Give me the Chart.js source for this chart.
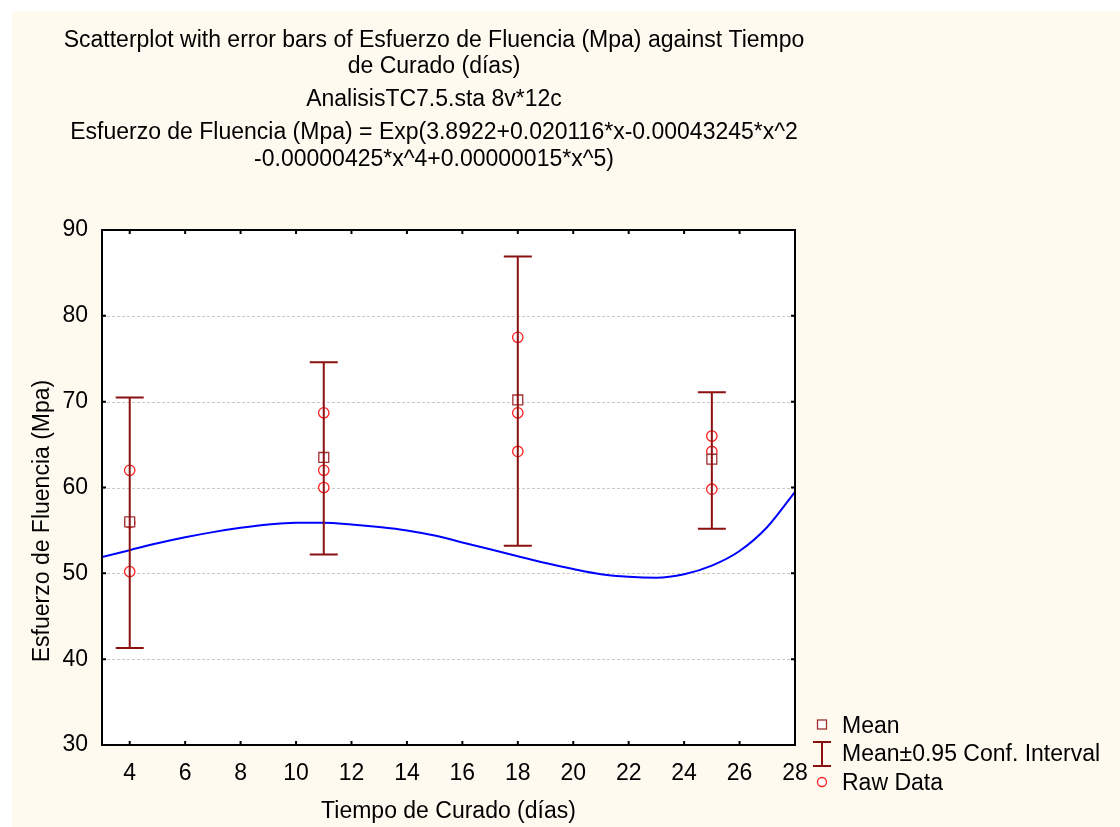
<!DOCTYPE html>
<html>
<head>
<meta charset="utf-8">
<script src="https://cdn.jsdelivr.net/npm/chart.js@4.4.1/dist/chart.umd.min.js"></script>
<style>
  html, body { margin: 0; padding: 0; background: #ffffff; }
  #wrap { position: absolute; left: 0; top: 0; width: 1120px; height: 827px; }
</style>
</head>
<body>
<div id="wrap"><canvas id="c" width="1120" height="827"></canvas></div>
<script>
// ---- data ----
const titleLines = [
  "Scatterplot with error bars of Esfuerzo de Fluencia (Mpa) against Tiempo",
  "de Curado (días)",
  "AnalisisTC7.5.sta 8v*12c",
  "Esfuerzo de Fluencia (Mpa) = Exp(3.8922+0.020116*x-0.00043245*x^2",
  "-0.00000425*x^4+0.00000015*x^5)"
];
const xTitle = "Tiempo de Curado (días)";
const yTitle = "Esfuerzo de Fluencia (Mpa)";
const xTicks = [4, 6, 8, 10, 12, 14, 16, 18, 20, 22, 24, 26, 28];
const yTicks = [30, 40, 50, 60, 70, 80, 90];

const days   = [4, 11, 18, 25];
const means  = [56.0, 63.5, 70.2, 63.3];
const ciLow  = [41.3, 52.2, 53.2, 55.2];
const ciHigh = [70.5, 74.6, 86.9, 71.1];

const rawX = [4, 4, 4, 11, 11, 11, 18, 18, 18, 25, 25, 25];
const rawY = [62.0, 55.9, 50.2, 68.7, 62.0, 60.0, 77.5, 68.7, 64.2, 66.0, 64.2, 59.8];

const curveX = [3, 4, 5, 6, 7, 8, 9, 10, 11, 12, 13, 14, 15, 16, 17, 18, 19, 20, 21, 22, 23, 24, 25, 26, 27, 28];
const curveY = [51.9, 52.7, 53.5, 54.2, 54.8, 55.3, 55.7, 55.9, 55.9, 55.7, 55.4, 55.0, 54.4, 53.6, 52.8, 52.0, 51.2, 50.5, 49.9, 49.6, 49.5, 49.9, 50.9, 52.6, 55.4, 59.5];

const legendLabels = ["Mean", "Mean±0.95 Conf. Interval", "Raw Data"];

// ---- styles ----
const FONT = "'Liberation Sans', Arial, sans-serif";
const FS = 23;
const CREAM = "#fffaf0";
const DARKRED = "#8b1010";
const MEANRED = "#a03030";
const RAWRED = "#ff2020";
const BLUE = "#0000ff";

const decorPlugin = {
  id: 'decor',
  beforeDraw(chart) {
    const ctx = chart.ctx, a = chart.chartArea;
    ctx.save();
    ctx.fillStyle = '#ffffff';
    ctx.fillRect(0, 0, chart.width, chart.height);
    ctx.fillStyle = CREAM;
    ctx.fillRect(12, 11, chart.width - 12, chart.height - 11);
    ctx.fillStyle = '#ffffff';
    ctx.fillRect(a.left, a.top, a.right - a.left, a.bottom - a.top);
    // dashed horizontal grid
    const ys = chart.scales.y;
    ctx.strokeStyle = '#c8c8c8';
    ctx.lineWidth = 1;
    ctx.setLineDash([3, 2]);
    yTicks.forEach(v => {
      const py = Math.round(ys.getPixelForValue(v)) + 0.5;
      ctx.beginPath();
      ctx.moveTo(a.left, py);
      ctx.lineTo(a.right, py);
      ctx.stroke();
    });
    ctx.setLineDash([]);
    // titles
    ctx.fillStyle = '#000';
    ctx.font = FS + "px " + FONT;
    ctx.textAlign = 'center';
    ctx.textBaseline = 'middle';
    const ty = [41, 67, 100, 133, 160];
    titleLines.forEach((t, i) => ctx.fillText(t, 434, ty[i]));
    // y axis title
    ctx.save();
    ctx.translate(43, 521);
    ctx.rotate(-Math.PI / 2);
    ctx.fillText(yTitle, 0, 0);
    ctx.restore();
    ctx.restore();
  },
  afterDatasetDraw(chart, args) {
    if (args.index !== 0) return;
    const ctx = chart.ctx, xs = chart.scales.x, ys = chart.scales.y;
    ctx.save();
    ctx.strokeStyle = DARKRED;
    ctx.lineWidth = 2;
    days.forEach((d, i) => {
      const px = xs.getPixelForValue(d);
      const p1 = ys.getPixelForValue(ciHigh[i]);
      const p2 = ys.getPixelForValue(ciLow[i]);
      ctx.beginPath();
      ctx.moveTo(px, p1); ctx.lineTo(px, p2);
      ctx.moveTo(px - 14, p1); ctx.lineTo(px + 14, p1);
      ctx.moveTo(px - 14, p2); ctx.lineTo(px + 14, p2);
      ctx.stroke();
    });
    ctx.restore();
  },
  afterDraw(chart) {
    const ctx = chart.ctx, a = chart.chartArea, xs = chart.scales.x, ys = chart.scales.y;
    ctx.save();
    // frame
    ctx.strokeStyle = '#000';
    ctx.lineWidth = 2;
    ctx.strokeRect(a.left, a.top, a.right - a.left, a.bottom - a.top);
    // inward ticks on all four sides
    const tl = 4;
    ctx.beginPath();
    xTicks.forEach(v => {
      const px = xs.getPixelForValue(v);
      ctx.moveTo(px, a.bottom); ctx.lineTo(px, a.bottom - tl);
      ctx.moveTo(px, a.top); ctx.lineTo(px, a.top + tl);
    });
    yTicks.forEach(v => {
      const py = ys.getPixelForValue(v);
      ctx.moveTo(a.left, py); ctx.lineTo(a.left + tl, py);
      ctx.moveTo(a.right, py); ctx.lineTo(a.right - tl, py);
    });
    ctx.stroke();
    // legend
    const lx = 822;
    ctx.lineWidth = 1.3;
    ctx.strokeStyle = MEANRED;
    ctx.fillStyle = '#fff';
    ctx.fillRect(lx - 4.5, 720, 9, 9);
    ctx.strokeRect(lx - 4.5, 720, 9, 9);
    ctx.strokeStyle = DARKRED;
    ctx.lineWidth = 2;
    ctx.beginPath();
    ctx.moveTo(lx, 742); ctx.lineTo(lx, 766);
    ctx.moveTo(lx - 9, 742); ctx.lineTo(lx + 9, 742);
    ctx.moveTo(lx - 9, 766); ctx.lineTo(lx + 9, 766);
    ctx.stroke();
    ctx.lineWidth = 1.3;
    ctx.strokeStyle = RAWRED;
    ctx.beginPath();
    ctx.arc(lx, 782, 4.5, 0, Math.PI * 2);
    ctx.fill();
    ctx.stroke();
    ctx.fillStyle = '#000';
    ctx.font = FS + "px " + FONT;
    ctx.textAlign = 'left';
    ctx.textBaseline = 'middle';
    const ly = [727, 755, 784];
    legendLabels.forEach((t, i) => ctx.fillText(t, 842, ly[i]));
    ctx.restore();
  }
};

new Chart(document.getElementById('c'), {
  type: 'scatter',
  data: {
    datasets: [
      {
        label: 'Fit',
        type: 'line',
        data: curveX.map((x, i) => ({ x, y: curveY[i] })),
        borderColor: BLUE,
        borderWidth: 2,
        pointRadius: 0,
        cubicInterpolationMode: 'monotone',
        fill: false
      },
      {
        label: legendLabels[0],
        data: days.map((x, i) => ({ x, y: means[i] })),
        pointStyle: 'rect',
        pointRadius: 7,
        borderColor: MEANRED,
        backgroundColor: '#ffffff',
        borderWidth: 1.3
      },
      {
        label: legendLabels[2],
        data: rawX.map((x, i) => ({ x, y: rawY[i] })),
        pointStyle: 'circle',
        pointRadius: 5.2,
        borderColor: RAWRED,
        backgroundColor: '#ffffff',
        borderWidth: 1.3
      }
    ]
  },
  options: {
    responsive: false,
    animation: false,
    devicePixelRatio: 1,
    layout: { padding: { left: 0, right: 325, top: 230, bottom: 0 } },
    plugins: {
      legend: { display: false },
      title: { display: false },
      tooltip: { enabled: false }
    },
    scales: {
      x: {
        type: 'linear',
        min: 3, max: 28,
        afterBuildTicks: s => { s.ticks = xTicks.map(v => ({ value: v })); },
        afterFit: s => { s.height = 82; },
        grid: { display: false, drawTicks: false },
        border: { display: false },
        ticks: { color: '#000', font: { family: FONT, size: FS }, padding: 15, maxRotation: 0 },
        title: { display: true, text: xTitle, color: '#000', font: { family: FONT, size: FS }, padding: { top: 0, bottom: 2 } }
      },
      y: {
        type: 'linear',
        min: 30, max: 90,
        afterBuildTicks: s => { s.ticks = yTicks.map(v => ({ value: v })); },
        afterFit: s => { s.width = 102; },
        grid: { display: false, drawTicks: false },
        border: { display: false },
        ticks: { color: '#000', font: { family: FONT, size: FS }, padding: 14 },
        title: { display: false }
      }
    }
  },
  plugins: [decorPlugin]
});
</script>
</body>
</html>
